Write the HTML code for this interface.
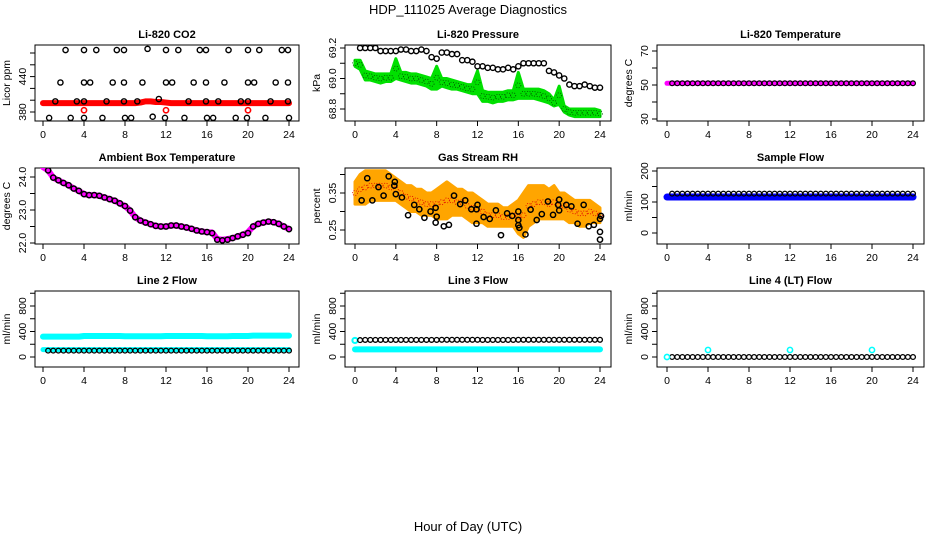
<!DOCTYPE html>
<html><head><meta charset="utf-8">
<style>
body{margin:0;background:#fff;}
svg{display:block;font-family:"Liberation Sans",sans-serif;}
</style></head>
<body>
<svg id="chart" width="936" height="540">
<text x="468" y="14" text-anchor="middle" font-size="13">HDP_111025  Average Diagnostics</text>
<text x="468" y="531" text-anchor="middle" font-size="13">Hour of Day (UTC)</text>
</svg>
<script>
const xTicks=[0,4,8,12,16,20,24];
const tHalf=[0.5,1,1.5,2,2.5,3,3.5,4,4.5,5,5.5,6,6.5,7,7.5,8,8.5,9,9.5,10,10.5,11,11.5,12,12.5,13,13.5,14,14.5,15,15.5,16,16.5,17,17.5,18,18.5,19,19.5,20,20.5,21,21.5,22,22.5,23,23.5,24];
const tBand=[0,0.5,1,1.5,2,2.5,3,3.5,4,4.5,5,5.5,6,6.5,7,7.5,8,8.5,9,9.5,10,10.5,11,11.5,12,12.5,13,13.5,14,14.5,15,15.5,16,16.5,17,17.5,18,18.5,19,19.5,20,20.5,21,21.5,22,22.5,23,23.5,24];
// CO2
const co2RedLine=[395,395,395,395,395,395,395,395,395,395,395,395,395,395,395,395,395,395,395,396,398,398,397,397,396,395,395,395,395,395,395,395,395,395,395,395,395,395,395,395,395,395,395,395,395,395,395,395,395];
const co2RedOutT=[4,12,20];
const co2RedOut=[383,383,383];
const co2HiT=[2.2,4,5.2,7.2,7.9,10.2,12,13.2,15.3,15.9,18.1,20,21.1,23.3,23.9];
const co2Hi=[485,485,485,485,485,487,485,485,485,485,485,485,485,485,485];
const co2MidT=[1.7,4,4.6,6.8,7.9,9.7,12,12.6,14.7,15.9,17.7,20,20.6,22.7,23.9];
const co2Mid=[430,430,430,430,430,430,430,430,430,430,430,430,430,430,430];
const co2LowT=[1.2,3.3,4,6.2,7.9,9.2,11.3,14.2,15.9,17.1,19.3,20,22.2,23.9];
const co2Low=[398,398,398,398,398,398,402,398,398,398,398,398,398,398];
const co2BotT=[0.6,2.7,4,5.8,8,8.6,10.7,11.9,13.8,16,16.6,18.8,19.9,21.7,24];
const co2Bot=[370,370,370,370,370,370,372,370,370,370,370,370,370,370,370];
// Pressure
const presGreenHi=[69.12,69.12,69.05,69.04,69.03,69.03,69.03,69.03,69.13,69.04,69.04,69.03,69.03,69.02,69.01,69.0,69.08,69.0,69.0,68.99,68.98,68.97,68.96,68.96,69.05,68.92,68.91,68.91,68.91,68.91,68.92,68.92,69.04,68.93,68.93,68.93,68.93,68.92,68.9,68.86,68.95,68.82,68.8,68.8,68.8,68.8,68.8,68.8,68.79];
const presGreenLo=[69.08,69.06,68.99,68.99,68.98,68.97,68.98,68.98,69.0,68.99,68.98,68.97,68.97,68.96,68.95,68.93,68.93,68.95,68.94,68.93,68.93,68.92,68.91,68.9,68.9,68.85,68.85,68.84,68.85,68.85,68.86,68.86,68.87,68.87,68.87,68.87,68.86,68.85,68.84,68.82,68.83,68.78,68.76,68.75,68.75,68.75,68.75,68.75,68.75];
const presBlack=[69.2,69.2,69.2,69.2,69.18,69.18,69.18,69.18,69.19,69.19,69.18,69.18,69.19,69.18,69.14,69.13,69.17,69.17,69.16,69.16,69.12,69.12,69.11,69.08,69.08,69.07,69.07,69.06,69.06,69.07,69.06,69.08,69.1,69.1,69.1,69.1,69.1,69.05,69.04,69.02,69.0,68.96,68.95,68.95,68.96,68.95,68.94,68.94];
// Li-820 temperature
const tempMag=[51,51,51,51,51,51,51,51,51,51,51,51,51,51,51,51,51,51,51,51,51,51,51,51,51,51,51,51,51,51,51,51,51,51,51,51,51,51,51,51,51,51,51,51,51,51,51,51,51];
const tempBlack=[51,51,51,51,51,51,51,51,51,51,51,51,51,51,51,51,51,51,51,51,51,51,51,51,51,51,51,51,51,51,51,51,51,51,51,51,51,51,51,51,51,51,51,51,51,51,51,51];
// Ambient
const ambVals=[24.3,24.2,23.98,23.9,23.82,23.75,23.65,23.58,23.48,23.45,23.45,23.43,23.38,23.33,23.28,23.2,23.12,22.98,22.78,22.68,22.62,22.57,22.52,22.5,22.5,22.53,22.53,22.5,22.47,22.43,22.38,22.35,22.33,22.32,22.12,22.1,22.12,22.15,22.2,22.25,22.33,22.5,22.58,22.62,22.65,22.63,22.58,22.5,22.42];
const ambBlack=[24.2,23.98,23.9,23.82,23.75,23.65,23.58,23.48,23.45,23.45,23.43,23.38,23.33,23.28,23.2,23.12,22.98,22.78,22.68,22.62,22.57,22.52,22.5,22.5,22.53,22.53,22.5,22.47,22.43,22.38,22.35,22.33,22.3,22.1,22.08,22.1,22.15,22.2,22.25,22.3,22.5,22.58,22.62,22.65,22.63,22.58,22.5,22.42];
// RH
const rhHi=[0.38,0.40,0.41,0.41,0.41,0.41,0.41,0.40,0.39,0.38,0.37,0.37,0.36,0.36,0.35,0.35,0.36,0.37,0.38,0.37,0.36,0.36,0.35,0.35,0.34,0.33,0.32,0.32,0.32,0.31,0.31,0.32,0.33,0.35,0.37,0.37,0.37,0.37,0.36,0.37,0.35,0.35,0.34,0.33,0.33,0.33,0.33,0.32,0.31];
const rhLo=[0.32,0.32,0.32,0.33,0.33,0.33,0.33,0.33,0.33,0.32,0.31,0.30,0.30,0.29,0.29,0.29,0.28,0.28,0.28,0.29,0.29,0.29,0.28,0.27,0.27,0.27,0.26,0.26,0.26,0.26,0.26,0.26,0.24,0.23,0.26,0.27,0.28,0.28,0.28,0.28,0.28,0.28,0.27,0.27,0.26,0.26,0.27,0.27,0.27];
const rhBlackT=[0.65,1.2,1.7,2.3,2.8,3.3,3.9,3.85,4,4.6,5.2,5.8,6.3,6.8,7.4,7.9,8,7.9,8.7,9.2,9.7,10.3,10.8,11.4,11.9,12,11.9,12.6,13.2,13.8,14.3,14.9,15.4,16,16,16,16.1,16.7,17.2,17.8,18.3,18.9,19.4,19.9,20,20,20.7,21.2,21.8,22.4,22.9,23.4,24,24.1,24,24];
const rhBlack=[0.33,0.39,0.33,0.366,0.343,0.395,0.38,0.37,0.347,0.338,0.29,0.318,0.306,0.283,0.3,0.31,0.286,0.27,0.26,0.264,0.343,0.32,0.33,0.306,0.306,0.318,0.267,0.285,0.28,0.303,0.236,0.295,0.288,0.3,0.277,0.263,0.256,0.238,0.305,0.277,0.293,0.327,0.291,0.318,0.332,0.303,0.318,0.314,0.267,0.318,0.26,0.264,0.28,0.288,0.245,0.224];
// Sample flow
const sampBlue=[116,116,116,116,116,116,116,116,116,116,116,116,116,116,116,116,116,116,116,116,116,116,116,116,116,116,116,116,116,116,116,116,116,116,116,116,116,116,116,116,116,116,116,116,116,116,116,116,116];
const sampBlack=[127,127,127,127,127,127,127,127,127,127,127,127,127,127,127,127,127,127,127,127,127,127,127,127,127,127,127,127,127,127,127,127,127,127,127,127,127,127,127,127,127,127,127,127,127,127,127,127];
// Line 2
const l2CyanTop=[320,320,320,320,320,320,320,320,330,330,330,330,330,330,330,330,325,325,325,325,325,325,325,325,330,330,330,330,330,330,330,330,325,325,325,325,325,330,330,330,330,335,335,335,335,335,335,335,335];
const l2CyanLow=[115,115,115,115,115,115,115,115,115,115,115,115,115,115,115,115,115,115,115,115,115,115,115,115,115,115,115,115,115,115,115,115,115,115,115,115,115,115,115,115,115,115,115,115,115,115,115,115,115];
const l2Black=[100,100,100,100,100,100,100,100,100,100,100,100,100,100,100,100,100,100,100,100,100,100,100,100,100,100,100,100,100,100,100,100,100,100,100,100,100,100,100,100,100,100,100,100,100,100,100,100];
// Line 3
const l3Cyan=[120,120,120,120,120,120,120,120,120,120,120,120,120,120,120,120,120,120,120,120,120,120,120,120,120,120,120,120,120,120,120,120,120,120,120,120,120,120,120,120,120,120,120,120,120,120,120,120,120];
const l3Black=[265,268,268,268,268,268,268,268,268,268,268,268,268,268,268,268,270,270,270,270,270,270,270,270,268,268,268,268,268,268,268,270,270,270,270,270,270,270,270,270,270,270,270,270,270,270,270,270];
// Line 4
const l4Black=[0,0,0,0,0,0,0,0,0,0,0,0,0,0,0,0,0,0,0,0,0,0,0,0,0,0,0,0,0,0,0,0,0,0,0,0,0,0,0,0,0,0,0,0,0,0,0,0];
const l4CyanT=[0,4,12,20];
const l4Cyan=[0,110,110,110];

const svg=document.getElementById('chart');
const NS='http://www.w3.org/2000/svg';
function E(tag,at,parent){const e=document.createElementNS(NS,tag);for(const k in at)e.setAttribute(k,at[k]);(parent||svg).appendChild(e);return e;}
const cols=[{l:35,r:299,x0:43,x24:289},{l:345,r:611,x0:355,x24:600},{l:657,r:924,x0:667,x24:913}];
const rows=[{t:45,b:121},{t:168,b:244},{t:291,b:367}];
function panel(name,title,ci,ri,yLab,v1,p1,v2,p2,ticks,labels,fmt){
  const c=cols[ci],r=rows[ri];
  const g=E('g',{});
  
  
  const xs=h=>c.x0+(c.x24-c.x0)*h/24;
  const ys=v=>p1+(p2-p1)*(v-v1)/(v2-v1);
  const tt=E('text',{x:(c.l+c.r)/2,y:r.t-7,'text-anchor':'middle','font-size':11,'font-weight':'bold'},g);tt.textContent=title;
  
  
  const box=E('rect',{x:c.l,y:r.t,width:c.r-c.l,height:r.b-r.t,fill:'none',stroke:'#000','stroke-width':1},g);
  
  
  const xa=E('g',{},g);
  
  
  xTicks.forEach(h=>{const x=xs(h);E('line',{x1:x,x2:x,y1:r.b,y2:r.b+5,stroke:'#000'},xa);
    const t=E('text',{x:x,y:r.b+17,'text-anchor':'middle','font-size':10.5},xa);t.textContent=h;});
  const ya=E('g',{},g);
  
  
  ticks.forEach(v=>{const y=ys(v);E('line',{x1:c.l-5,x2:c.l,y1:y,y2:y,stroke:'#000'},ya);});
  labels.forEach(v=>{const y=ys(v);const t=E('text',{x:c.l-9,y:y,'text-anchor':'middle','font-size':10.5,transform:`rotate(-90 ${c.l-9} ${y})`},ya);t.textContent=fmt?fmt(v):v;});
  const yl=E('text',{x:c.l-25,y:(r.t+r.b)/2,'text-anchor':'middle','font-size':10.5,transform:`rotate(-90 ${c.l-25} ${(r.t+r.b)/2})`},g);yl.textContent=yLab;
  
  
  const clipId='clip'+ci+ri;
  const cp=E('clipPath',{id:clipId},g);E('rect',{x:c.l,y:r.t,width:c.r-c.l,height:r.b-r.t},cp);
  const d=E('g',{'clip-path':`url(#${clipId})`},g);
  return {xs,ys,d};
}
function band(P,name,ts,lo,hi,col,dot){
  const g=E('g',{},P.d);
  
  
  let pts=ts.map((t,i)=>P.xs(t)+','+P.ys(hi[i]));
  for(let i=ts.length-1;i>=0;i--)pts.push(P.xs(ts[i])+','+P.ys(lo[i]));
  E('polygon',{points:pts.join(' '),fill:col,stroke:col,'stroke-width':3,'stroke-linejoin':'round'},g);
  if(dot){ts.forEach((t,i)=>{E('circle',{cx:P.xs(t),cy:P.ys((hi[i]+lo[i])/2),r:2.5,fill:'none',stroke:dot,'stroke-width':0.8,'stroke-dasharray':'1 1.5'},g);});}
}
function thick(P,name,ts,vals,col,w){
  const g=E('g',{},P.d);
  
  
  E('polyline',{points:ts.map((t,i)=>P.xs(t)+','+P.ys(vals[i])).join(' '),fill:'none',stroke:col,'stroke-width':w,'stroke-linejoin':'round','stroke-linecap':'round'},g);
}
function pts(P,name,ts,vals,col,rad,sw){
  const g=E('g',{},P.d);
  
  
  ts.forEach((t,i)=>{E('circle',{cx:P.xs(t),cy:P.ys(vals[i]),r:rad||2.6,fill:'none',stroke:col,'stroke-width':sw||1.4},g);});
}
let P;
P=panel('co2','Li-820 CO2',0,0,'Licor ppm',380,112,480,53,[380,400,420,440,460,480],[380,440]);
thick(P,'co2-red-series',tBand,co2RedLine,'#f00',6);
pts(P,'co2-red-outliers',co2RedOutT,co2RedOut,'#f00',2.6,1.6);
pts(P,'co2-black-top',co2HiT,co2Hi,'#000');
pts(P,'co2-black-mid',co2MidT,co2Mid,'#000');
pts(P,'co2-black-low',co2LowT,co2Low,'#000');
pts(P,'co2-black-bottom',co2BotT,co2Bot,'#000');
P=panel('pressure','Li-820 Pressure',1,0,'kPa',68.8,109,69.2,48,[68.8,68.9,69.0,69.1,69.2],[68.8,69.0,69.2],v=>v.toFixed(1));
band(P,'pressure-green-series',tBand,presGreenLo,presGreenHi,'#00e000','#005000');
pts(P,'pressure-black-series',tHalf,presBlack,'#000');
P=panel('li-temp','Li-820 Temperature',2,0,'degrees C',30,119,70,51,[30,40,50,60,70],[30,50,70]);
thick(P,'li-temp-magenta-series',tBand,tempMag,'#f0f',5);
pts(P,'li-temp-black-series',tHalf,tempBlack,'#000',2.4,1.2);
P=panel('ambient','Ambient Box Temperature',0,1,'degrees C',22,243,24,177,[22,22.5,23,23.5,24],[22,23,24],v=>v.toFixed(1));
thick(P,'ambient-magenta-series',tBand,ambVals,'#f0f',6);
pts(P,'ambient-black-series',tHalf,ambBlack,'#000',2.6,1.5);
P=panel('rh','Gas Stream RH',1,1,'percent',0.25,230,0.35,193,[0.25,0.30,0.35,0.40],[0.25,0.35],v=>v.toFixed(2));
band(P,'rh-orange-series',tBand,rhLo,rhHi,'#ffa500','#e00000');
pts(P,'rh-black-series',rhBlackT,rhBlack,'#000',2.6,1.5);
P=panel('sample-flow','Sample Flow',2,1,'ml/min',0,233,200,171,[0,50,100,150,200],[0,100,200]);
thick(P,'sample-blue-series',tBand,sampBlue,'#0000ff',7);
pts(P,'sample-black-series',tHalf,sampBlack,'#000',2.4,1.3);
P=panel('line2','Line 2 Flow',0,2,'ml/min',0,357,800,306,[0,200,400,600,800,1000],[0,400,800]);
thick(P,'line2-cyan-top',tBand,l2CyanTop,'#00ffff',6);
thick(P,'line2-cyan-low',tBand,l2CyanLow,'#00ffff',5);
pts(P,'line2-black-series',tHalf,l2Black,'#000',2.4,1.3);
P=panel('line3','Line 3 Flow',1,2,'ml/min',0,357,800,306,[0,200,400,600,800,1000],[0,400,800]);
thick(P,'line3-cyan-series',tBand,l3Cyan,'#00ffff',6);
pts(P,'line3-cyan-start',[0],[260],'#00ffff',2.6,2);
pts(P,'line3-black-series',tHalf,l3Black,'#000',2.4,1.3);
P=panel('line4','Line 4 (LT) Flow',2,2,'ml/min',0,357,800,306,[0,200,400,600,800,1000],[0,400,800]);
pts(P,'line4-black-series',tHalf,l4Black,'#000',2.4,1.3);
pts(P,'line4-cyan-series',l4CyanT,l4Cyan,'#00ffff',2.6,1.6);
</script>
</body></html>
